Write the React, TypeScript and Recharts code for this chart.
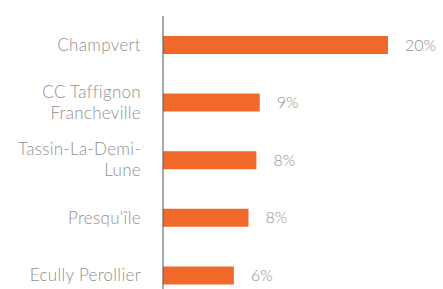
import * as React from 'react';
import { Bar, BarChart, LabelList, XAxis, YAxis } from 'recharts';

const categories = [
    'Champvert',
    'CC Taffignon\nFrancheville',
    'Tassin-La-Demi-\nLune',
    "Presqu'île",
    'Ecully Perollier',
];
const shares = [20, 8.6, 8.3, 7.6, 6.3];

const data = categories.map((name, i) => ({ name, share: shares[i] }));

const GREY = '#8f8f8f';
const FONT = 'Lato, sans-serif';

function WrappedTick(props: any) {
    const { x, y, payload } = props;
    const lines: string[] = String(payload.value).split('\n');
    const lh = 21;
    const start = y - ((lines.length - 1) * lh) / 2;
    return (
        <text
            x={x}
            y={start}
            textAnchor="end"
            fill={GREY}
            fontSize={17}
            fontWeight={300}
            letterSpacing={0.3}
            fontFamily={FONT}
        >
            {lines.map((l, i) => (
                <tspan key={i} x={x} y={start + i * lh} dy="0.35em">
                    {l}
                </tspan>
            ))}
        </text>
    );
}

export default function App() {
    return (
        <div style={{ position: 'absolute', left: 0, top: 0, width: 443, height: 289, overflow: 'hidden', background: '#fff' }}>
            <BarChart
                width={443}
                height={304}
                data={data}
                layout="vertical"
                margin={{ top: 16, right: 55, left: 0, bottom: 0 }}
                barSize={18}
            >
                <XAxis type="number" domain={[0, 20]} hide />
                <YAxis
                    type="category"
                    dataKey="name"
                    width={163}
                    tickLine={false}
                    axisLine={{ stroke: '#4b5563', strokeWidth: 1 }}
                    tick={<WrappedTick />}
                    tickMargin={16}
                    interval={0}
                />
                <Bar dataKey="share" fill="#f0692b" isAnimationActive={false}>
                    <LabelList
                        dataKey="share"
                        position="right"
                        offset={17}
                        formatter={(v: any) => `${Math.round(Number(v))}%`}
                        fill={GREY}
                        fontSize={16}
                        fontWeight={300}
                        fontFamily={FONT}
                    />
                </Bar>
            </BarChart>
        </div>
    );
}
